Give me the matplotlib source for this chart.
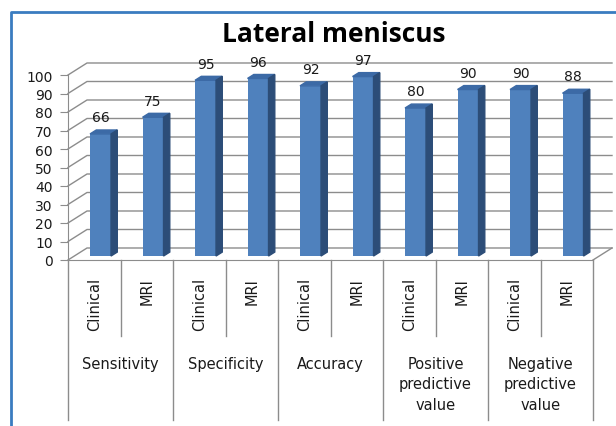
import matplotlib.pyplot as plt
from matplotlib.patches import Polygon
from matplotlib.lines import Line2D
import matplotlib.transforms as mtransforms
import numpy as np

# data
groups = ['Sensitivity', 'Specificity', 'Accuracy',
          'Positive\npredictive\nvalue', 'Negative\npredictive\nvalue']
methods = ['Clinical', 'MRI']
clinical = [66, 95, 92, 80, 90]
mri = [75, 96, 97, 90, 88]
yticks = list(range(0, 101, 10))

values = []
for c, m in zip(clinical, mri):
    values += [c, m]
values = np.array(values)
n = len(values)

# fake 3d depth (in data units of the front plane)
DX, DY = 0.362, 6.49
d_front = 0.33
bw = 0.4

front = '#4f81bd'
side = '#2c4d78'
top = '#3c6aa6'
grid_c = '#8c8c8c'
txt = '#1a1a1a'

fig = plt.figure(figsize=(6.16, 4.27), dpi=100)
ax = fig.add_axes([68/616, 1-261/427, (593-68)/616, (261-76)/427])
ax.set_xlim(0, n)
ax.set_ylim(0, 100)
ax.patch.set_alpha(0)

# walls: gridlines on side wall and back wall
for v in yticks:
    ax.plot([0, DX, n + DX], [v, v + DY, v + DY], color=grid_c, lw=1, clip_on=False, zorder=1)
ax.plot([n, n + DX], [0, DY], color=grid_c, lw=1, clip_on=False, zorder=1)

# bars
ox, oy = DX * d_front, DY * d_front
xc = np.arange(n) + 0.5 + ox
ax.bar(xc, values, width=bw, bottom=oy, color=front, zorder=3, clip_on=False)
for x, v in zip(xc, values):
    x0, x1 = x - bw/2, x + bw/2
    ytop = v + oy
    ax.add_patch(Polygon([(x0, ytop), (x1, ytop), (x1 + ox, ytop + oy), (x0 + ox, ytop + oy)],
                         closed=True, color=top, zorder=3, clip_on=False))
    ax.add_patch(Polygon([(x1, oy), (x1, ytop), (x1 + ox, ytop + oy), (x1 + ox, oy + oy)],
                         closed=True, color=side, zorder=3, clip_on=False))
    ax.text(x, v + 11.2, str(v), ha='center', va='center', fontsize=10, color=txt)

# axes look
for s in ['top', 'right']:
    ax.spines[s].set_visible(False)
ax.spines['left'].set_color(grid_c)
ax.spines['bottom'].set_color(grid_c)
ax.set_yticks(yticks)
ax.tick_params(axis='y', length=6, color=grid_c, labelsize=10, labelcolor=txt, pad=5)
ax.set_xticks([])

# multi level category axis
trans = mtransforms.blended_transform_factory(ax.transData, fig.transFigure)
y_short = 1 - 337/427
y_long = 1 - 421/427
y_axis = 1 - 261/427
for k in range(n + 1):
    yend = y_long if k % 2 == 0 else y_short
    fig.add_artist(Line2D([k, k], [y_axis, yend], transform=trans, color=grid_c, lw=1))
for i in range(n):
    ax.text(i + 0.5, 1 - 278/427, methods[i % 2], transform=trans, rotation=90,
            ha='center', va='top', fontsize=10.5, color=txt)
for g, name in enumerate(groups):
    ax.text(2*g + 1, 1 - 357/427, name, transform=trans, ha='center', va='top',
            fontsize=10.5, color=txt, linespacing=1.45)

# title
fig.text(334/616, 1 - 34/427, 'Lateral meniscus', ha='center', va='center',
         fontsize=19, fontweight='bold', family='Open Sans', color='black')

# chart frame
fig.add_artist(Line2D([11/616, 11/616, 1], [0, 1 - 13/427, 1 - 13/427],
                      transform=fig.transFigure, color='#3a7cc0', lw=2))

plt.savefig('out.png', dpi=100)
